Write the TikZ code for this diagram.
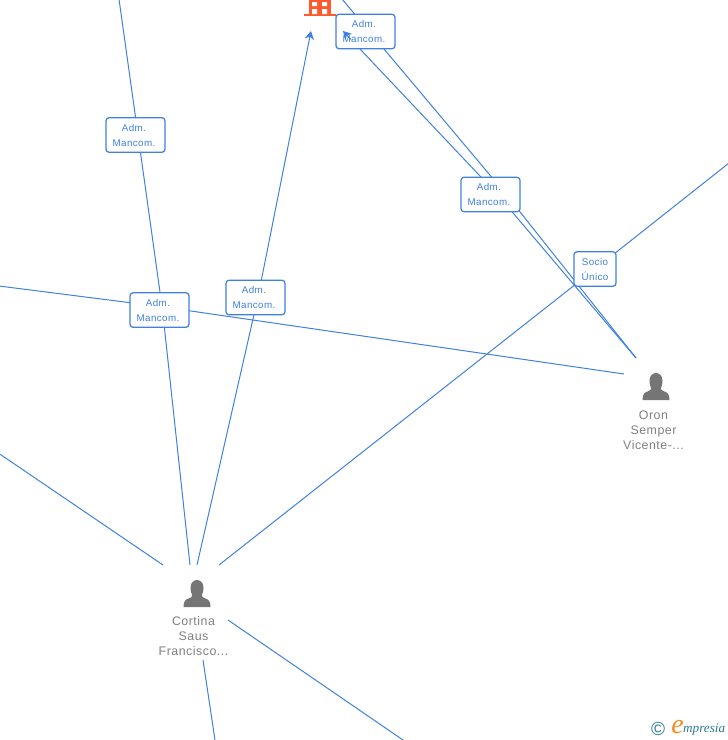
\documentclass[tikz,border=0pt]{standalone}
\usepackage{fontspec}
\setmainfont{Liberation Sans}
\newfontfamily\logofont{Liberation Serif}
\newfontfamily\lblfont[LetterSpace=4]{Liberation Sans}
\usetikzlibrary{arrows.meta,backgrounds}
\definecolor{linkblue}{HTML}{3F80E0}
\definecolor{boxtext}{HTML}{3F80E0}
\definecolor{persongray}{HTML}{757575}
\definecolor{labelgray}{HTML}{808080}
\definecolor{orangeb}{HTML}{FF5A2B}
\definecolor{logoteal}{HTML}{2C7A92}
\definecolor{logoorange}{HTML}{F58A1F}
\tikzset{
  link/.style={draw=linkblue,line width=1pt},
  tagbox/.style={draw=linkblue,line width=1.25pt,rounded corners=3pt,fill=white,text=boxtext,
    font=\lblfont\fontsize{9.8pt}{15pt}\selectfont,align=center,inner sep=0pt,minimum height=34.5pt},
  adm/.style={tagbox,minimum width=59pt},
  soc/.style={tagbox,minimum width=42pt},
  personlabel/.style={text=labelgray,font=\lblfont\fontsize{12.4pt}{15pt}\selectfont,align=center,inner sep=0pt},
  tipend/.style={-{Stealth[length=8.5pt,width=9.5pt]}}
}
\newcommand{\personicon}[2]{%
  \fill[persongray,shift={(#1,#2)}] (-6.5,-7) .. controls (-6.5,-12) and (-3,-14.5) .. (0,-14.5)
   .. controls (3,-14.5) and (6.5,-12) .. (6.5,-7)
   .. controls (6.5,-3) and (5.5,-1) .. (5,0) .. controls (5,2.5) and (5.5,3) .. (7.5,3.6)
   .. controls (11.5,4.8) and (13.5,6.5) .. (13.5,12.5) -- (-13.5,12.5)
   .. controls (-13.5,6.5) and (-11.5,4.8) .. (-7.5,3.6) .. controls (-5.5,3) and (-5,2.5) .. (-5,0)
   .. controls (-5.5,-1) and (-6.5,-3) .. (-6.5,-7) -- cycle;}
\newcommand{\two}[2]{#1\kern3pt\\#2\kern3pt}
\begin{document}
\begin{tikzpicture}[x=1pt,y=-1pt]
\useasboundingbox (0,0) rectangle (728,740);
\clip (0,0) rectangle (728,740);
% boxes
\node[adm] (b1) at (135.5,135) {\two{Adm.}{Mancom.}};
\node[adm] (b2) at (159.5,310) {\two{Adm.}{Mancom.}};
\node[adm] (b3) at (255.5,297.5) {\two{Adm.}{Mancom.}};
\node[adm] (b4) at (365.5,31.5) {\two{Adm.}{Mancom.}};
\node[adm] (b5) at (490.5,194.5) {\two{Adm.}{Mancom.}};
\node[soc] (b6) at (595,269) {Socio\\Único};
% persons
\node[personlabel] (p1) at (193.5,636) {Cortina\\Saus\\Francisco...};
\node[personlabel] (p2) at (653.5,430) {Oron\\Semper\\Vicente-...};
% connector ends and bends
\coordinate (t1) at (119,-1);
\coordinate (k1) at (162.5,310);
\coordinate (e1) at (190,565);
\coordinate (e2) at (197,565);
\coordinate (k2) at (258,297);
\coordinate (a2) at (311,31);
\coordinate (l3) at (-1,286);
\coordinate (k3) at (160,306.5);
\coordinate (e3) at (624,374);
\coordinate (e4) at (219,565);
\coordinate (k4) at (595,269);
\coordinate (r4) at (729,163);
\coordinate (s5) at (636,358);
\coordinate (k5) at (505,193);
\coordinate (k6) at (497,194);
\coordinate (a5) at (343,31);
\coordinate (a5s) at (351,39.5);
\coordinate (t5) at (342,-1);
\coordinate (l6) at (-1,453.5);
\coordinate (e6) at (163,565);
\coordinate (s7) at (228,620);
\coordinate (r7) at (403,740);
\coordinate (s8) at (203,660);
\coordinate (r8) at (215,740);
\begin{scope}[on background layer]
\draw[link] (t1) -- (k1) -- (e1);
\draw[link,tipend] (e2) -- (k2) -- (a2);
\draw[link] (l3) -- (k3) -- (e3);
\draw[link] (e4) -- (k4) -- (r4);
\draw[link] (s5) -- (k6) -- (a5s);
\draw[link] (t5) -- (k5) -- (s5);
\draw[link] (l6) -- (e6);
\draw[link] (s7) -- (r7);
\draw[link] (s8) -- (r8);
\end{scope}
\draw[link,tipend] (a5s) -- (a5);
% person icons
\personicon{197}{594.5}
\personicon{656}{387.5}
% building
\fill[orangeb] (309,-2) rectangle (331,14);
\fill[orangeb] (304,14) rectangle (336,16);
\fill[white] (312,2) rectangle (317,6) (322,2) rectangle (327,6)
  (312,9) rectangle (317,14) (322,9) rectangle (327,14);
% logo
\node[inner sep=0pt,text=logoteal,font=\fontsize{19pt}{19pt}\selectfont] (c) at (658,729) {©};
\node[inner sep=0pt,text=logoorange,font=\logofont\itshape\fontsize{28pt}{28pt}\selectfont] (e) at (677.5,727) {e};
\node[inner sep=0pt,anchor=west,text=logoteal,font=\logofont\itshape\fontsize{13.2pt}{13pt}\selectfont] (m) at (683,730) {mpresia};
\end{tikzpicture}
\end{document}
